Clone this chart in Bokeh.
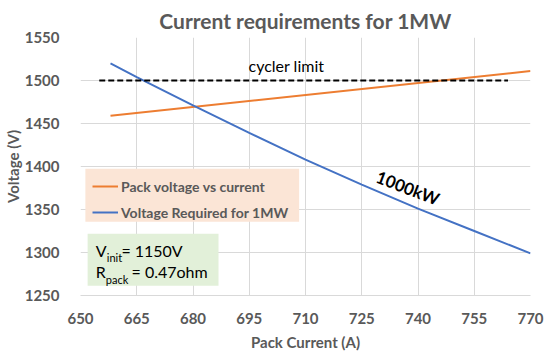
from bokeh.plotting import figure
from bokeh.models import Label, BoxAnnotation, Legend, LegendItem, FixedTicker, Range1d
from bokeh.embed import file_html
from bokeh.resources import INLINE

# ---- data ----
x_ticks = [650, 665, 680, 695, 710, 725, 740, 755, 770]
y_ticks = [1250, 1300, 1350, 1400, 1450, 1500, 1550]

pack_current = [658, 770]
pack_voltage = [1459, 1511]

req_current = [658, 665, 680, 695, 710, 725, 740, 755, 770]
req_voltage = [1520, 1504, 1471, 1439, 1408, 1379, 1351, 1325, 1299]

cycler_current = [655, 764]
cycler_voltage = [1500, 1500]

TEXT = "#595959"
FONT = "Lato"

p = figure(frame_width=450, frame_height=258, output_backend="svg", toolbar_location=None,
           x_range=Range1d(650, 770), y_range=Range1d(1250, 1550),
           min_border_left=0, min_border_right=15, min_border_top=0, min_border_bottom=0,
           title="Current requirements for 1MW")
p.outline_line_color = None
p.background_fill_color = "white"

p.title.text_font = FONT
p.title.text_font_size = "21px"
p.title.text_font_style = "bold"
p.title.text_color = TEXT
p.title.align = "center"
p.title.offset = -8

p.xaxis.ticker = FixedTicker(ticks=x_ticks)
p.yaxis.ticker = FixedTicker(ticks=y_ticks)
for ax in (p.xaxis, p.yaxis):
    ax.major_tick_line_color = None
    ax.minor_tick_line_color = None
    ax.major_label_text_font = FONT
    ax.major_label_text_font_size = "15px"
    ax.major_label_text_font_style = "bold"
    ax.major_label_text_color = TEXT
    ax.axis_label_text_font = FONT
    ax.axis_label_text_font_size = "15px"
    ax.axis_label_text_font_style = "bold"
    ax.axis_label_text_color = TEXT
p.xaxis.axis_label = "Pack Current (A)"
p.yaxis.axis_label = "Voltage (V)"
p.xaxis.axis_line_color = "#d9d9d9"
p.yaxis.axis_line_color = None
p.xaxis.major_label_standoff = 11
p.yaxis.major_label_standoff = 15
p.xaxis.axis_label_standoff = 6
p.yaxis.axis_label_standoff = 0
p.xgrid.grid_line_color = "#d9d9d9"
p.ygrid.grid_line_color = "#d9d9d9"
p.xgrid.ticker = FixedTicker(ticks=x_ticks)
p.ygrid.ticker = FixedTicker(ticks=y_ticks)

# legend and info backgrounds
p.add_layout(BoxAnnotation(left=651.3, right=708.3, bottom=1335.7, top=1397.3,
                           fill_color="#fbe5d6", fill_alpha=1, line_color=None))
p.add_layout(BoxAnnotation(left=651.9, right=686.8, bottom=1261.3, top=1321.7,
                           fill_color="#e2f0d9", fill_alpha=1, line_color=None))

r_orange = p.line(pack_current, pack_voltage, line_color="#ED7D31", line_width=2)
r_blue = p.line(req_current, req_voltage, line_color="#4472C4", line_width=2)
p.line(cycler_current, cycler_voltage, line_color="black", line_width=2, line_dash="6 3")

legend = Legend(items=[LegendItem(label="Pack voltage vs current", renderers=[r_orange]),
                       LegendItem(label="Voltage Required for 1MW", renderers=[r_blue])],
                location=(12, 73))
legend.background_fill_alpha = 0
legend.border_line_color = None
legend.label_text_font = FONT
legend.label_text_font_size = "14px"
legend.label_text_font_style = "bold"
legend.label_text_color = TEXT
legend.glyph_width = 26
legend.label_standoff = 3
legend.padding = 4
legend.spacing = 6
legend.label_height = 20
legend.glyph_height = 20
legend.margin = 0
p.add_layout(legend, "center")

def lab(x, y, text, size, color="black", style="normal", angle=0.0, align="left"):
    p.add_layout(Label(x=x, y=y, text=text, text_font=FONT, text_font_size=size,
                       text_color=color, text_font_style=style, angle=angle,
                       text_align=align, text_baseline="middle"))

lab(694.8, 1518, "cycler limit", "16px")
lab(737.3, 1375.2, "1000kW", "17px", style="bold", angle=-0.366, align="center")

lab(654.05, 1301.9, "V", "16px")
lab(657.0, 1293.8, "init", "11px")
lab(660.9, 1301.9, "= 1150V", "16px")
lab(654.05, 1277.6, "R", "16px")
lab(656.75, 1268.3, "pack", "11px")
lab(663.6, 1277.6, "= 0.47ohm", "16px")

open("out.html", "w").write(file_html(p, INLINE))
